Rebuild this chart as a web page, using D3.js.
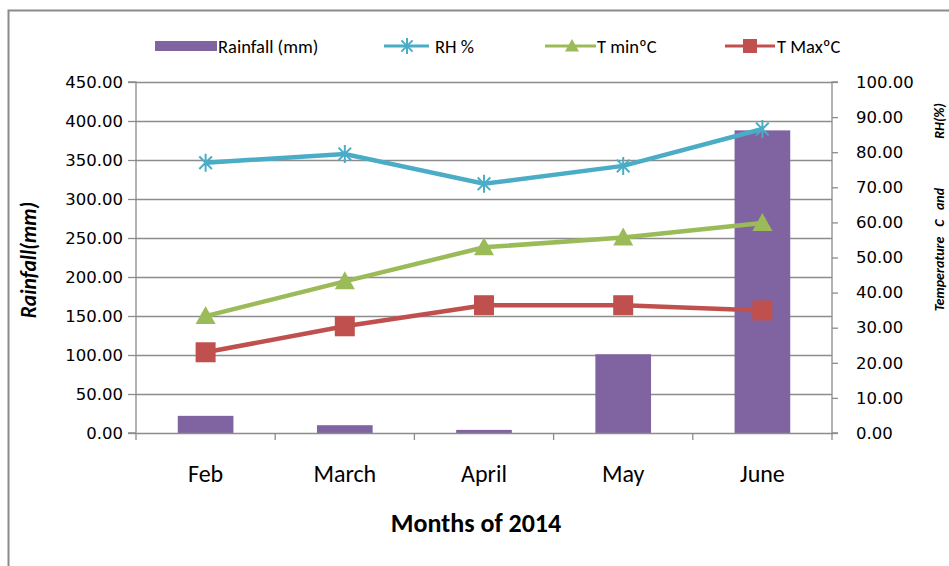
<!DOCTYPE html>
<html><head><meta charset="utf-8">
<script src="https://cdn.jsdelivr.net/npm/d3@7"></script>
<style>
body{margin:0;background:#fff}
text{font-family:"Carlito","Liberation Sans Narrow","Liberation Sans",sans-serif}
.num{font-family:"DejaVu Sans",sans-serif}
</style></head><body>
<svg id="c" width="949" height="566"></svg>
<script>
const months = ["Feb","March","April","May","June"];
const rainfall = [22, 10, 4, 101, 388];
const rh = [77.0, 79.5, 71.0, 76.1, 86.6];
const tmin = [33.3, 43.2, 52.9, 55.7, 59.8];
const tmax = [23.0, 30.4, 36.4, 36.4, 34.9];
const leftTicks = d3.range(0, 451, 50);
const rightTicks = d3.range(0, 101, 10);

const svg = d3.select("#c");
const m = {l:136, r:832, t:82, b:433};
const grey = "#8c8c8c";
// frame
svg.append("path").attr("d","M8.5,566 V10.5 H949").attr("fill","none").attr("stroke","#8a8a8a").attr("stroke-width",2);

const x = d3.scaleBand().domain(months).range([m.l, m.r]);
const yL = d3.scaleLinear().domain([0,450]).range([m.b, m.t]);
const yR = d3.scaleLinear().domain([0,100]).range([m.b, m.t]);

// gridlines
svg.append("g").selectAll("line").data(leftTicks.slice(1)).join("line")
  .attr("x1",m.l).attr("x2",m.r).attr("y1",d=>Math.round(yL(d))+0.5).attr("y2",d=>Math.round(yL(d))+0.5)
  .attr("stroke",grey).attr("stroke-width",1.3);

// bars
const bw = x.bandwidth()*0.4;
svg.append("g").selectAll("rect").data(months).join("rect")
  .attr("x",(d)=>x(d)+x.bandwidth()/2-bw/2).attr("width",bw)
  .attr("y",(d,i)=>yL(rainfall[i])).attr("height",(d,i)=>m.b-yL(rainfall[i]))
  .attr("fill","#8064A2");

// axes
const fmt = d3.format(".2f");
const gL = svg.append("g").attr("transform",`translate(${m.l},0)`)
  .call(d3.axisLeft(yL).tickValues(leftTicks).tickFormat(fmt).tickSize(8).tickPadding(5));
const gR = svg.append("g").attr("transform",`translate(${m.r},0)`)
  .call(d3.axisRight(yR).tickValues(rightTicks).tickFormat(fmt).tickSize(6).tickPadding(18));
const gX = svg.append("g").attr("transform",`translate(0,${m.b})`)
  .call(d3.axisBottom(x).tickSize(0).tickPadding(32));
// category boundary ticks
svg.append("g").selectAll("line").data(months.concat(["_end"])).join("line")
  .attr("x1",(d,i)=>i<5?x(d):m.r).attr("x2",(d,i)=>i<5?x(d):m.r)
  .attr("y1",m.b).attr("y2",m.b+7).attr("stroke",grey).attr("stroke-width",1.3);
[gL,gR,gX].forEach(g=>{
  g.select(".domain").attr("stroke",grey).attr("stroke-width",1.3);
  g.selectAll(".tick line").attr("stroke",grey).attr("stroke-width",1.3);
  g.selectAll("text").attr("fill","#000");
});
[gL,gR].forEach(g=>g.selectAll("text").attr("class","num").style("font-size","16.5px"));
gL.select(".domain").attr("d",`M-8,${m.t}H0V${m.b}H-8`);
gR.select(".domain").attr("d",`M6,${m.t}H0V${m.b}H6`);
gX.selectAll("text").style("font-size","24px");

// lines
const cx = i=>x(months[i])+x.bandwidth()/2;
const line = (arr)=>d3.line().x((d,i)=>cx(i)).y(d=>yR(d))(arr);
function drawSeries(arr,color,marker){
  svg.append("path").attr("d",line(arr)).attr("fill","none").attr("stroke",color).attr("stroke-width",4.5);
  const g = svg.append("g");
  arr.forEach((v,i)=>marker(g,cx(i),yR(v),color));
}
function star(g,px,py,c,s=9){
  g.append("path").attr("d",`M${px-s*0.7},${py-s*0.7}L${px+s*0.7},${py+s*0.7}M${px-s*0.7},${py+s*0.7}L${px+s*0.7},${py-s*0.7}M${px},${py-s}V${py+s}`)
    .attr("stroke",c).attr("stroke-width",2).attr("fill","none");
}
function tri(g,px,py,c,s=10){
  g.append("path").attr("d",`M${px},${py-s}L${px+s},${py+s*0.8}L${px-s},${py+s*0.8}Z`).attr("fill",c);
}
function sq(g,px,py,c,s=10){
  g.append("rect").attr("x",px-s).attr("y",py-s).attr("width",2*s).attr("height",2*s).attr("fill",c);
}
drawSeries(rh,"#4BACC6",star);
drawSeries(tmin,"#9BBB59",tri);
drawSeries(tmax,"#C0504D",sq);

// legend
const ly = 46;
svg.append("rect").attr("x",155).attr("y",41).attr("width",62).attr("height",10).attr("fill","#8064A2");
const lg = svg.append("g");
const legTxt = (xx,t)=>lg.append("text").attr("x",xx).attr("y",ly+6.5).style("font-size","18.5px").text(t);
legTxt(218,"Rainfall (mm)");
lg.append("line").attr("x1",384).attr("x2",429).attr("y1",ly).attr("y2",ly).attr("stroke","#4BACC6").attr("stroke-width",3);
star(lg,407,ly,"#4BACC6",8);
legTxt(435,"RH %");
lg.append("line").attr("x1",545).attr("x2",596).attr("y1",ly).attr("y2",ly).attr("stroke","#9BBB59").attr("stroke-width",3);
tri(lg,572,ly,"#9BBB59",7);
legTxt(597,"T minºC");
lg.append("line").attr("x1",725).attr("x2",775).attr("y1",ly).attr("y2",ly).attr("stroke","#C0504D").attr("stroke-width",3);
sq(lg,750,ly,"#C0504D",7);
legTxt(777,"T MaxºC");

// titles
svg.append("text").attr("transform","translate(36,260) rotate(-90)").attr("text-anchor","middle")
  .style("font-size","21.5px").style("font-weight","bold").style("font-style","italic").text("Rainfall(mm)");
const rt = (y,t)=>svg.append("text").attr("transform",`translate(944,${y}) rotate(-90)`).attr("text-anchor","middle")
  .style("font-size","14px").style("font-weight","bold").style("font-style","italic").text(t);
rt(274,"Temperature"); rt(223,"C"); rt(199,"and"); rt(121,"RH(%)");
svg.append("text").attr("x",476).attr("y",532).attr("text-anchor","middle")
  .style("font-size","26px").style("font-weight","bold").text("Months of 2014");
</script></body></html>
